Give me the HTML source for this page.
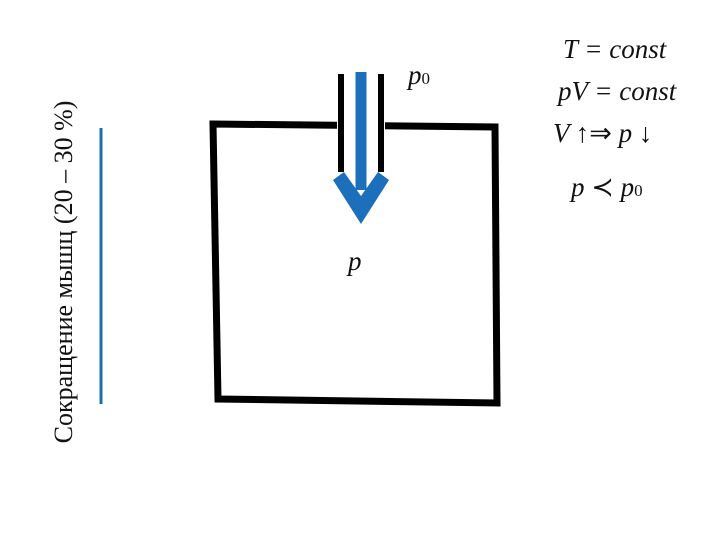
<!DOCTYPE html>
<html><head><style>
body{margin:0;width:720px;height:540px;background:#fff;overflow:hidden;position:relative;font-family:"Liberation Serif",serif}
.t{position:absolute;font-style:italic;font-size:27px;color:#111;white-space:nowrap}
</style></head><body>
<svg width="720" height="540" style="position:absolute;left:0;top:0">
<line x1="101" y1="128" x2="101" y2="404" stroke="#1b6fae" stroke-width="3"/>
<polygon points="213,124 495,127 497,403 218,399" fill="none" stroke="#000" stroke-width="7" stroke-linejoin="miter"/>
<rect x="337" y="110" width="48" height="20" fill="#fff"/>
<line x1="341" y1="74" x2="341" y2="172" stroke="#000" stroke-width="6"/>
<line x1="381" y1="74" x2="381" y2="172" stroke="#000" stroke-width="6"/>
<line x1="361" y1="72" x2="361" y2="190" stroke="#1b6fbb" stroke-width="11"/>
<polygon points="333,180 344,172 361,196 378,172 389,180 361,224" fill="#1b6fbb"/>
</svg>
<div style="position:absolute;left:64px;top:272px;transform:translate(-50%,-50%) rotate(-90deg);font-size:26px;white-space:nowrap;color:#111">Сокращение мышц (20 – 30 %)</div>
<div class="t" style="left:408px;top:60px">p<span style="font-style:normal;font-size:17px">0</span></div>
<div class="t" style="left:348px;top:246px">p</div>
<div class="t" style="left:563px;top:34px">T = const</div>
<div class="t" style="left:558px;top:76px">pV = const</div>
<div class="t" style="left:553px;top:118px">V <span style="font-style:normal">↑⇒</span> p <span style="font-style:normal">↓</span></div>
<div class="t" style="left:571px;top:172px">p <span style="font-style:normal">≺</span> p<span style="font-style:normal;font-size:17px">0</span></div>
</body></html>
